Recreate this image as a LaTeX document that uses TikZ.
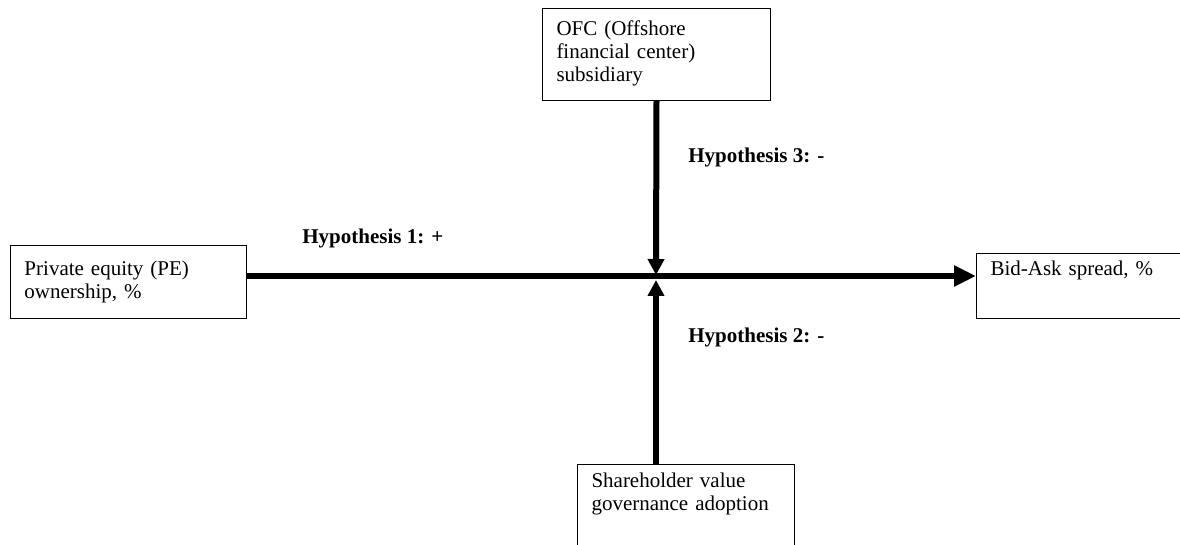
\documentclass[tikz,border=0pt]{standalone}
\usepackage{fontspec}
\setmainfont{Liberation Serif}
\usepackage{tikz}
\usetikzlibrary{positioning, arrows.meta}
\tikzstyle{link} = [line width=3pt,-{Triangle[length=8pt,width=8pt]}]

\begin{document}
\begin{tikzpicture}[x=0.5pt,y=-0.5pt]
                    \tikzstyle{every node}=[font=\fontsize{10.5}{11.5}\selectfont]
                    \tikzstyle{box} = [draw=black, line width=0.5pt, anchor=north west, align=left, inner xsep=7pt, inner ysep=0pt]
                    \tikzstyle{hypo} = [anchor=west, inner sep=0pt]
                    \tikzstyle{mainlink} = [link, -{Triangle[length=11pt,width=10pt]}]

                    \clip (0,0) rectangle (1180,545);

                    \node[box, text width=104pt, text height=15pt, text depth=21.5pt](pe) at (10,245) {Private equity (PE)\\ownership, \%};
                    \node[box, text width=100pt, text height=13.5pt, text depth=32.5pt](ofc) at (542,8) {OFC (Offshore\\financial center)\\subsidiary};
                    \node[box, text width=96pt, text height=11pt, text depth=21.5pt](bas) at (976,253) {Bid-Ask spread, \%};
                    \node[box, text width=94.5pt, text height=11.5pt, text depth=40pt](svg) at (577,464) {Shareholder value\\governance adoption};

                    % meeting point of the three links
                    \coordinate (hub) at (656,276);
                    \coordinate (hubtop) at (656,275);
                    \coordinate (hubbot) at (656,280);

                    \draw[mainlink] (pe.east |- hub) -- (hub -| bas.west);
                    \draw[link] (ofc.south) -- (hubtop);
                    \draw[link] (svg.north -| hubbot) -- (hubbot);

                    \node[hypo](h1) at (302,238) {\textbf{Hypothesis 1: +}};
                    \node[hypo](h3) at (688,157) {\textbf{Hypothesis 3: -}};
                    \node[hypo](h2) at (688,337) {\textbf{Hypothesis 2: -}};
\end{tikzpicture}
\end{document}
